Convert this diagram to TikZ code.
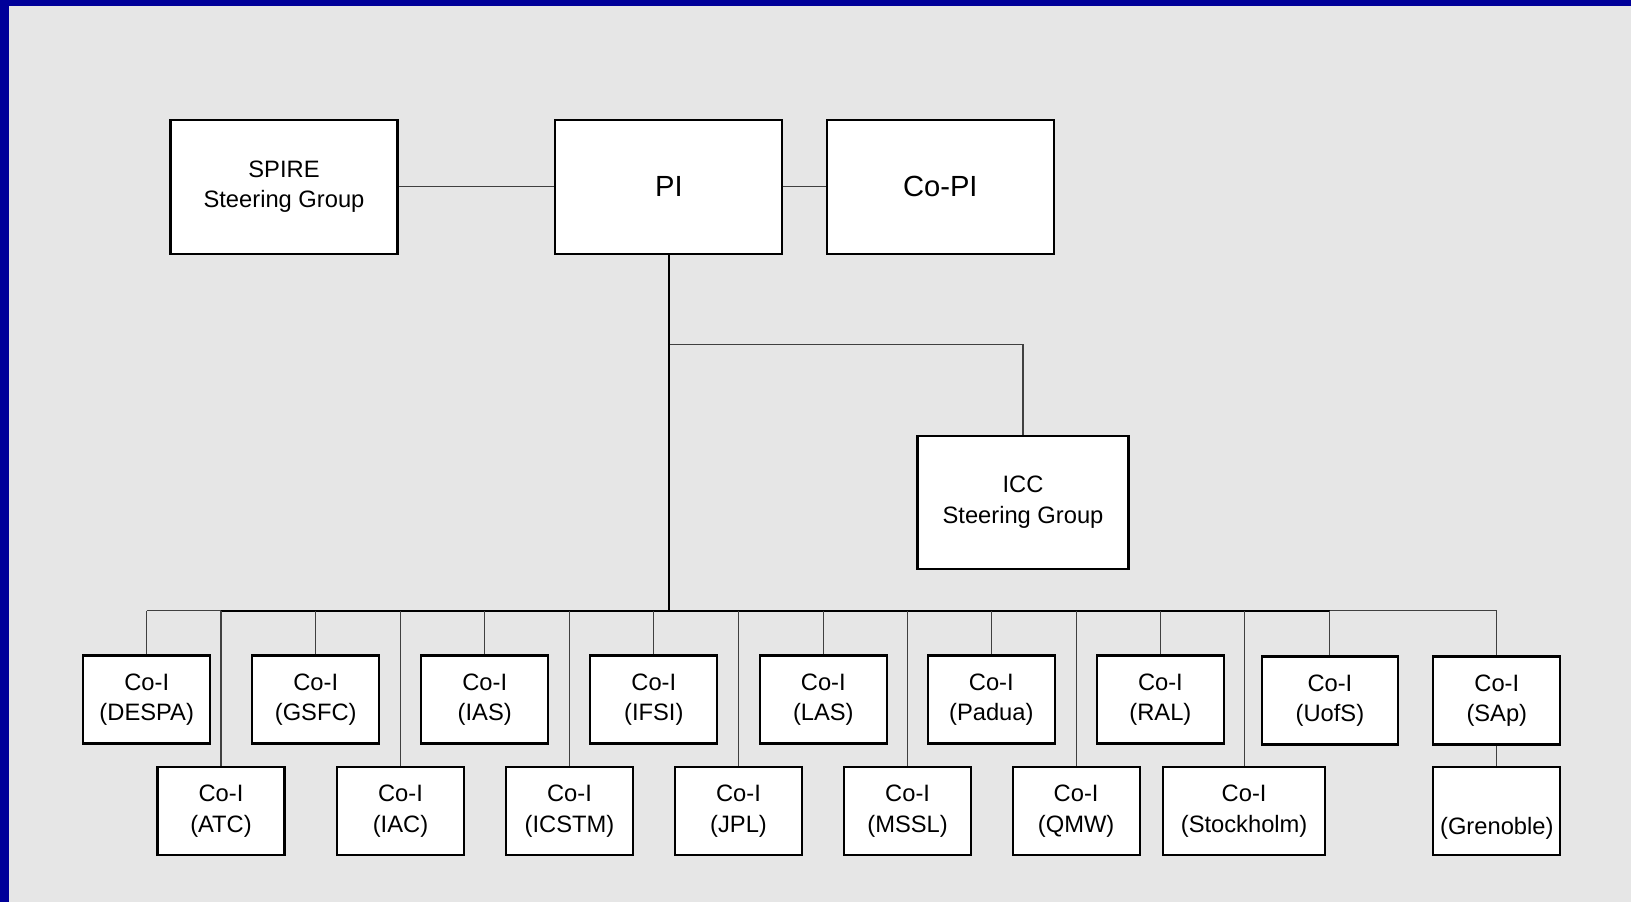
\documentclass[tikz,border=0pt]{standalone}
\usepackage{fontspec}
\setmainfont{Liberation Sans}
\usepackage{xcolor}
\definecolor{slideblue}{HTML}{000099}
\definecolor{slidegray}{HTML}{E6E6E6}
\newcommand{\orgfont}{\fontsize{13.5}{17.4}\selectfont}
\newcommand{\bigorgfont}{\fontsize{16.6}{20}\selectfont}

\begin{document}
\begin{tikzpicture}[x=0.02cm,y=-0.02cm,
	unit/.style={draw=black,fill=white,line width=1.2pt,align=center,inner sep=0pt,font=\orgfont},
	coi/.style={unit,minimum width=2.54cm,minimum height=1.76cm},
	link/.style={draw=black!75,line width=0.6pt},
	trunk/.style={draw=black,line width=1.1pt}]
			% background
			\fill[slidegray] (0,0) rectangle (1631,902);
			\fill[slideblue] (0,0) rectangle (1631,6);
			\fill[slideblue] (0,0) rectangle (9,902);
			\useasboundingbox (0,0) rectangle (1631,902);
			
			\node[unit,minimum width=4.54cm,minimum height=2.68cm] (spire) at (284,186.7) {SPIRE\\Steering Group};
			\node[unit,minimum width=4.54cm,minimum height=2.68cm,font=\bigorgfont] (pi) at (668.9,186.7) {PI};
			\node[unit,minimum width=4.54cm,minimum height=2.68cm,font=\bigorgfont] (copi) at (940.3,186.7) {Co-PI};
			\node[unit,minimum width=4.22cm,minimum height=2.66cm] (icc) at (1023,502.4) {ICC\\Steering Group};
			
			\node[coi] (despa) at (146.7,699.5) {Co-I\\(DESPA)};
			\node[coi] (gsfc) at (315.7,699.5) {Co-I\\(GSFC)};
			\node[coi] (ias) at (484.7,699.5) {Co-I\\(IAS)};
			\node[coi] (ifsi) at (653.8,699.5) {Co-I\\(IFSI)};
			\node[coi] (las) at (823.3,699.5) {Co-I\\(LAS)};
			\node[coi] (padua) at (991.3,699.5) {Co-I\\(Padua)};
			\node[coi] (ral) at (1160.4,699.5) {Co-I\\(RAL)};
			\node[coi,minimum width=2.72cm] (uofs) at (1329.9,700.5) {Co-I\\(UofS)};
			\node[coi] (sap) at (1496.8,700.5) {Co-I\\(SAp)};
			
			\node[coi] (atc) at (221,811) {Co-I\\(ATC)};
			\node[coi] (iac) at (400.5,811) {Co-I\\(IAC)};
			\node[coi] (icstm) at (569.5,811) {Co-I\\(ICSTM)};
			\node[coi] (jpl) at (738.5,811) {Co-I\\(JPL)};
			\node[coi] (mssl) at (907.6,811) {Co-I\\(MSSL)};
			\node[coi] (qmw) at (1076.1,811) {Co-I\\(QMW)};
			\node[coi,minimum width=3.24cm] (stockholm) at (1244.1,811) {Co-I\\(Stockholm)};
			\node[coi] (grenoble) at (1496.8,811) {\strut\\(Grenoble)};
			
			\coordinate (tap) at (668.9,344.3);
			\coordinate (busL) at (146.7,610.6);
			\coordinate (busR) at (1496.8,610.6);
			
			\draw[link] (spire) -- (pi);
			\draw[link] (pi) -- (copi);
			\draw[link] (tap) -| (icc);
			\draw[link] (busL) -- (busR);
			\draw[trunk] (atc |- busL) -- (uofs |- busL);
			\draw[trunk] (pi) -- (pi |- busL);
			
			\foreach \n in {despa,gsfc,ias,ifsi,las,padua,ral,uofs,sap,atc,iac,icstm,jpl,mssl,qmw,stockholm}
				\draw[link] (\n) -- (\n |- busL);
			\draw[link] (sap) -- (grenoble);
		\end{tikzpicture}
\end{document}
